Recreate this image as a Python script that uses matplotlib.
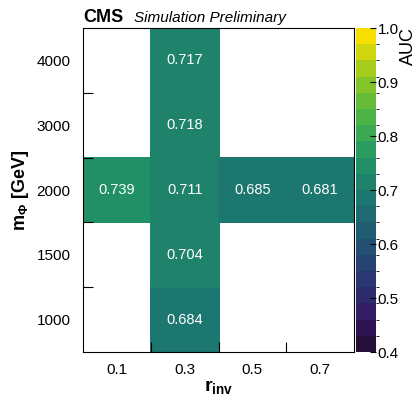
import numpy as np
import matplotlib
matplotlib.use('Agg')
import matplotlib.pyplot as plt
from matplotlib.colors import LinearSegmentedColormap, ListedColormap, BoundaryNorm

plt.rcParams['font.family'] = ['Liberation Sans', 'DejaVu Sans']
plt.rcParams['mathtext.fontset'] = 'custom'
plt.rcParams['mathtext.rm'] = 'Liberation Sans'
plt.rcParams['mathtext.bf'] = 'Liberation Sans:bold'

# Grid categories
r_inv_labels = ['0.1', '0.3', '0.5', '0.7']
mass_labels = ['1000', '1500', '2000', '3000', '4000']

# Filled cells: (r_inv, mass, AUC)
cell_rinv = ['0.3', '0.3', '0.3', '0.3', '0.3', '0.1', '0.5', '0.7']
cell_mass = ['1000', '1500', '2000', '3000', '4000', '2000', '2000', '2000']
cell_auc = [0.684, 0.704, 0.711, 0.718, 0.717, 0.739, 0.685, 0.681]

z = np.full((len(mass_labels), len(r_inv_labels)), np.nan)
for r, m, a in zip(cell_rinv, cell_mass, cell_auc):
    z[mass_labels.index(m), r_inv_labels.index(r)] = a

# ROOT-like viridis palette, 20 contour levels
stops = np.linspace(0, 1, 9)
red = [26, 51, 43, 33, 28, 35, 74, 144, 246]
green = [9, 24, 55, 87, 118, 150, 180, 200, 222]
blue = [30, 96, 112, 114, 112, 101, 72, 35, 0]
base = LinearSegmentedColormap.from_list(
    'rootviridis', [(s, (r / 255, g / 255, b / 255)) for s, r, g, b in zip(stops, red, green, blue)])
nlev = 20
cmap = ListedColormap([base((i + 1) / nlev) for i in range(nlev)])
levels = np.linspace(0.4, 1.0, nlev + 1)
norm = BoundaryNorm(levels, cmap.N)

fig = plt.figure(figsize=(4.2, 3.97), dpi=100)
ax = fig.add_axes([83 / 420, 45 / 397, 271 / 420, 324 / 397])
cax = fig.add_axes([356 / 420, 45 / 397, 20 / 420, 324 / 397])

xe = np.arange(len(r_inv_labels) + 1)
ye = np.arange(len(mass_labels) + 1)
mesh = ax.pcolormesh(xe, ye, np.ma.masked_invalid(z), cmap=cmap, norm=norm,
                     edgecolor='face', linewidth=0.3)

for i in range(z.shape[0]):
    for j in range(z.shape[1]):
        if not np.isnan(z[i, j]):
            ax.text(j + 0.5, i + 0.5, f'{z[i, j]:.3f}', ha='center', va='center',
                    color='white', fontsize=10.5)

ax.set_xlim(0, len(r_inv_labels))
ax.set_ylim(0, len(mass_labels))
ax.set_xticks(xe[1:-1])
ax.set_xticks(xe[:-1] + 0.5, minor=True)
ax.set_xticklabels([])
ax.set_xticklabels(r_inv_labels, minor=True)
ax.set_yticks(ye[1:-1])
ax.set_yticks(ye[:-1] + 0.5, minor=True)
ax.set_yticklabels([])
ax.set_yticklabels(mass_labels, minor=True)
ax.tick_params(which='major', direction='in', length=7, width=0.8, colors='black')
ax.tick_params(which='minor', length=0, labelsize=11, pad=9)
ax.tick_params(axis='x', which='minor', pad=8)
for sp in ax.spines.values():
    sp.set_linewidth(0.8)
ax.set_axisbelow(False)

ax.set_xlabel(r'$\mathbf{r}_{\mathbf{inv}}$', fontsize=14, labelpad=1)
ax.set_ylabel(r'$\mathbf{m}_{\mathbf{\Phi}}$ [GeV]', fontsize=13, fontweight='bold', labelpad=4)

fig.text(83 / 420, 1 - 22 / 397, 'CMS', fontsize=13, fontweight='bold', ha='left', va='baseline')
fig.text(134 / 420, 1 - 22 / 397, 'Simulation Preliminary', fontsize=11, style='italic',
         ha='left', va='baseline')

cb = fig.colorbar(mesh, cax=cax, ticks=np.arange(0.4, 1.01, 0.1))
cb.outline.set_visible(False)
cb.ax.tick_params(direction='in', length=4, width=0.8, labelsize=11, pad=1)
cb.ax.set_yticklabels([f'{t:.1f}' for t in np.arange(0.4, 1.01, 0.1)])
fig.text(408 / 420, 1 - 27 / 397, 'AUC', rotation=90, fontsize=13, ha='center', va='top')

fig.savefig('out.png', dpi=100)
